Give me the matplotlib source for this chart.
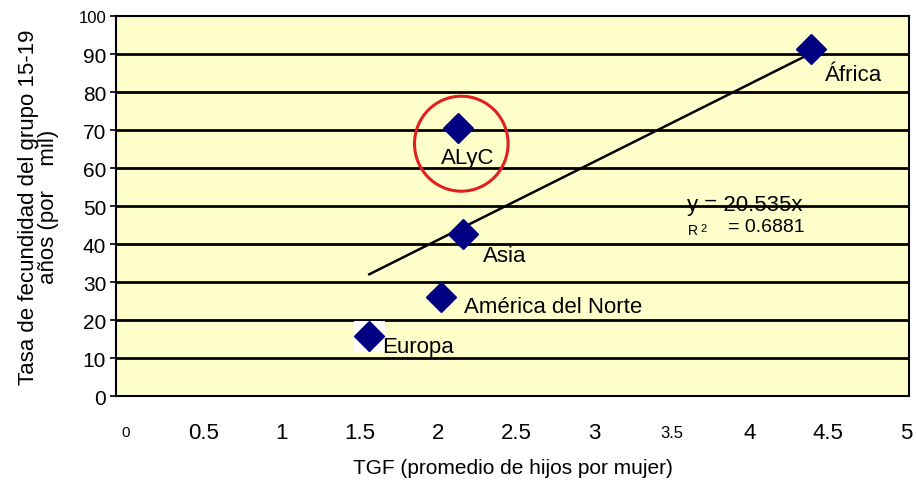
import numpy as np
import matplotlib
matplotlib.use("Agg")
import matplotlib.pyplot as plt
from matplotlib.patches import Ellipse, Rectangle

plt.rcParams["font.family"] = ["Liberation Sans", "DejaVu Sans"]

# ---------- data ----------
regions = ["Europa", "América del Norte", "Asia", "ALyC", "África"]
tgf = [1.56, 2.02, 2.16, 2.13, 4.39]
tasa = [15.8, 26.0, 42.6, 70.5, 91.3]
slope = 20.535
r2 = 0.6881

# label offsets (data units)
offs = {"Europa": (0.08, -2.8), "América del Norte": (0.15, -2.5),
        "Asia": (0.13, -5.5), "ALyC": (-0.11, -7.8), "África": (0.09, -6.8)}

fig = plt.figure(figsize=(9.16, 4.81), dpi=100)
ax = fig.add_axes([0.1266, 0.1746, 0.8657, 0.790])
ax.set_facecolor("#FFFFCC")
ax.set_xlim(-0.064, 5.02)
ax.set_ylim(0, 100)

ax.set_yticks(np.arange(0, 101, 10))
for y in np.arange(10, 100, 10):
    ax.axhline(y, color="black", lw=2.0, zorder=1)
for s in ax.spines.values():
    s.set_linewidth(1.5)

# trend line through origin
xs = np.array([min(tgf), max(tgf)])
ax.plot(xs, slope * xs, color="black", lw=1.8, zorder=2)

# white patch behind Europa marker
ax.add_patch(Rectangle((tgf[0] - 0.1, tasa[0] - 4), 0.2, 8, fc="white", ec="none", zorder=2))

ax.plot(tgf, tasa, ls="none", marker="D", ms=15, color="#000080", zorder=3)

for r, x, y in zip(regions, tgf, tasa):
    dx, dy = offs[r]
    ax.text(x + dx, y + dy, r, fontsize=16, ha="left", va="center", zorder=4)

ax.add_patch(Ellipse((2.15, 66.4), 0.60, 25, fill=False, ec="#E02020", lw=2.2, zorder=4))

ax.text(3.6, 50.5, f"y = {slope}x", fontsize=16, ha="left", va="center", zorder=4)
ax.text(3.6, 43.8, "R", fontsize=10, ha="left", va="center", zorder=4)
ax.text(3.685, 44.3, "2", fontsize=8, ha="left", va="center", zorder=4)
ax.text(3.86, 44.6, f"= {r2}", fontsize=14, ha="left", va="center", zorder=4)

xt = [0, 0.5, 1, 1.5, 2, 2.5, 3, 3.5, 4, 4.5, 5]
ax.set_xticks(xt)
ax.set_xticklabels(["0", "0.5", "1", "1.5", "2", "2.5", "3", "3.5", "4", "4.5", "5"])
ax.tick_params(axis="x", length=0, pad=26, labelsize=16)
ax.tick_params(axis="y", length=4, width=1.2, labelsize=15, pad=3)
for lab in ax.get_xticklabels():
    lab.set_va("center")
ax.get_xticklabels()[0].set_fontsize(11)
ax.get_xticklabels()[7].set_fontsize(12)
ax.get_yticklabels()[-1].set_fontsize(12)

ax.set_xlabel("TGF (promedio de hijos por mujer)", fontsize=15, labelpad=11)
ax.set_ylabel("Tasa de fecundidad del grupo 15-19\naños (por    mil)", fontsize=16,
              labelpad=14, linespacing=0.95)

fig.savefig("out.png", dpi=100)
